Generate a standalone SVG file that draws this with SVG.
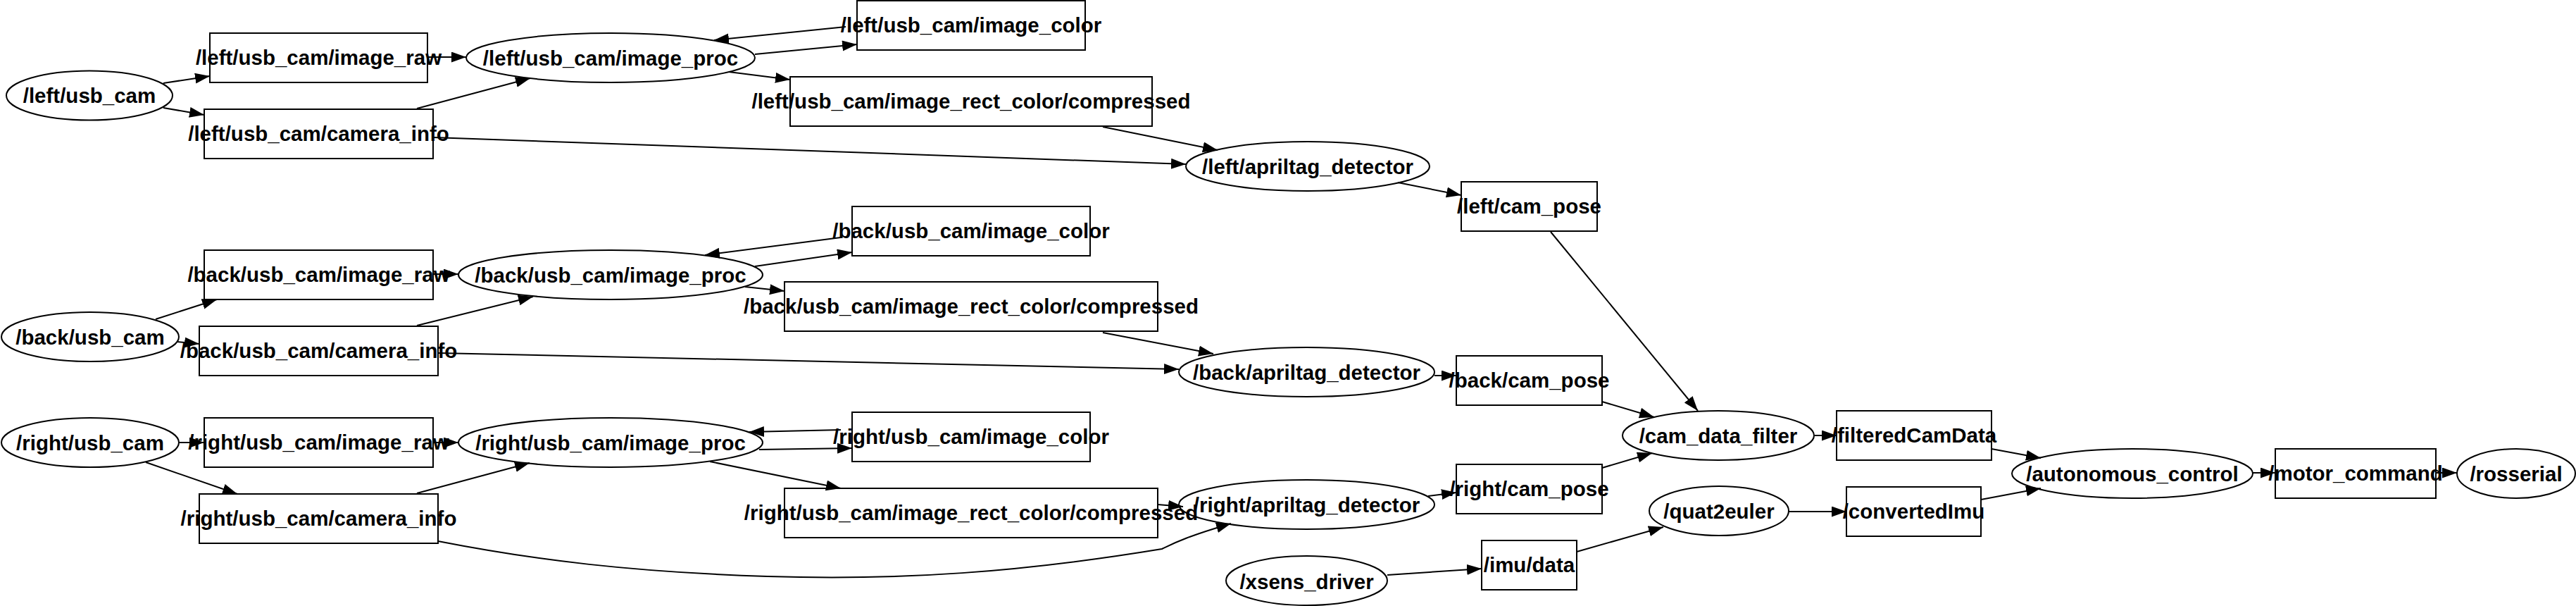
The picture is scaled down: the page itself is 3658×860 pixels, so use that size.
<svg xmlns="http://www.w3.org/2000/svg" width="3658" height="860" viewBox="0 0 3658 860">
<defs>
<style>
.n ellipse,.n rect{fill:none;stroke:#000;stroke-width:2}
.n text{font-family:"Liberation Sans",Arial,sans-serif;font-weight:bold;font-size:29.5px;text-anchor:middle;fill:#000}
.e path{fill:none;stroke:#000;stroke-width:2;marker-end:url(#ah)}
</style>
<marker id="ah" markerUnits="userSpaceOnUse" markerWidth="22" markerHeight="16" refX="21" refY="7.5" orient="auto"><path d="M0,0 L21,7.5 L0,15 z" fill="#000"/></marker>
</defs>
<rect x="0" y="0" width="3658" height="860" fill="#fff"/>
<g id="edges" class="e">
<path d="M232,118 L298,108"/>
<path d="M232,153 L290,163"/>
<path d="M607,81 L662,81"/>
<path d="M592,154 L753,111"/>
<path d="M1072,77 L1217,63"/>
<path d="M1201,38 L1014,57"/>
<path d="M1035,102 L1122,113"/>
<path d="M1566,180 L1729,213"/>
<path d="M615,195 L1684,233"/>
<path d="M1985,259 L2075,277"/>
<path d="M2202,329 L2411,583"/>
<path d="M221,453 L308,425"/>
<path d="M252,485 L283,488"/>
<path d="M615,389 L651,389"/>
<path d="M592,462 L757,421"/>
<path d="M1072,378 L1210,358"/>
<path d="M1194,337 L1001,362"/>
<path d="M1058,407 L1114,413"/>
<path d="M1566,472 L1723,502"/>
<path d="M622,501 L1674,524"/>
<path d="M2037,533 L2068,533"/>
<path d="M2275,570 L2349,592"/>
<path d="M254,628 L290,628"/>
<path d="M207,656 L337,701"/>
<path d="M615,628 L651,628"/>
<path d="M592,700 L752,657"/>
<path d="M1078,638 L1210,636"/>
<path d="M1194,610 L1064,613"/>
<path d="M1008,655 L1194,693"/>
<path d="M1644,716 L1680,719"/>
<path d="M622,768 C760,795 900,812 1090,818 S1450,812 1650,779 C1665,772 1680,763 1748,743"/>
<path d="M2028,704 L2068,699"/>
<path d="M2275,664 L2346,643"/>
<path d="M1970,816 L2104,807"/>
<path d="M2239,783 L2362,748"/>
<path d="M2540,726 L2622,726"/>
<path d="M2577,618 L2608,618"/>
<path d="M2828,637 L2898,650"/>
<path d="M2813,709 L2898,693"/>
<path d="M3199,671 L3231,671"/>
<path d="M3459,671 L3489,671"/>
</g>
<g id="left_usb_cam" class="n"><ellipse cx="127" cy="135.5" rx="118" ry="35"/><text x="127" y="146">/left/usb_cam</text></g>
<g id="back_usb_cam" class="n"><ellipse cx="128" cy="478" rx="126" ry="35"/><text x="128" y="488.5">/back/usb_cam</text></g>
<g id="right_usb_cam" class="n"><ellipse cx="128" cy="628" rx="126" ry="35"/><text x="128" y="638.5">/right/usb_cam</text></g>
<g id="left_image_raw" class="n"><rect x="298" y="47" width="309" height="70"/><text x="452.5" y="92">/left/usb_cam/image_raw</text></g>
<g id="left_camera_info" class="n"><rect x="290" y="155" width="325" height="70"/><text x="452.5" y="200">/left/usb_cam/camera_info</text></g>
<g id="back_image_raw" class="n"><rect x="290" y="355" width="325" height="70"/><text x="452.5" y="400">/back/usb_cam/image_raw</text></g>
<g id="back_camera_info" class="n"><rect x="283" y="463" width="339" height="70"/><text x="452.5" y="508">/back/usb_cam/camera_info</text></g>
<g id="right_image_raw" class="n"><rect x="290" y="593" width="325" height="70"/><text x="452.5" y="638">/right/usb_cam/image_raw</text></g>
<g id="right_camera_info" class="n"><rect x="283" y="701" width="339" height="70"/><text x="452.5" y="746">/right/usb_cam/camera_info</text></g>
<g id="left_image_proc" class="n"><ellipse cx="867" cy="82" rx="205" ry="35"/><text x="867" y="92.5">/left/usb_cam/image_proc</text></g>
<g id="back_image_proc" class="n"><ellipse cx="867" cy="390" rx="216" ry="35"/><text x="867" y="400.5">/back/usb_cam/image_proc</text></g>
<g id="right_image_proc" class="n"><ellipse cx="867" cy="628" rx="216" ry="35"/><text x="867" y="638.5">/right/usb_cam/image_proc</text></g>
<g id="left_image_color" class="n"><rect x="1217" y="1" width="324" height="70"/><text x="1379" y="46">/left/usb_cam/image_color</text></g>
<g id="left_rect_compressed" class="n"><rect x="1122" y="109" width="514" height="70"/><text x="1379" y="154">/left/usb_cam/image_rect_color/compressed</text></g>
<g id="back_image_color" class="n"><rect x="1210" y="293" width="338" height="70"/><text x="1379" y="338">/back/usb_cam/image_color</text></g>
<g id="back_rect_compressed" class="n"><rect x="1114" y="400" width="530" height="70"/><text x="1379" y="445">/back/usb_cam/image_rect_color/compressed</text></g>
<g id="right_image_color" class="n"><rect x="1210" y="585" width="338" height="70"/><text x="1379" y="630">/right/usb_cam/image_color</text></g>
<g id="right_rect_compressed" class="n"><rect x="1114" y="693" width="530" height="70"/><text x="1379" y="738">/right/usb_cam/image_rect_color/compressed</text></g>
<g id="left_apriltag" class="n"><ellipse cx="1857" cy="236" rx="173" ry="35"/><text x="1857" y="246.5">/left/apriltag_detector</text></g>
<g id="back_apriltag" class="n"><ellipse cx="1855.5" cy="528" rx="181.5" ry="35"/><text x="1855.5" y="538.5">/back/apriltag_detector</text></g>
<g id="right_apriltag" class="n"><ellipse cx="1855.5" cy="716" rx="181.5" ry="35"/><text x="1855.5" y="726.5">/right/apriltag_detector</text></g>
<g id="xsens_driver" class="n"><ellipse cx="1855.5" cy="824" rx="114.5" ry="35"/><text x="1855.5" y="836">/xsens_driver</text></g>
<g id="left_cam_pose" class="n"><rect x="2075" y="258" width="193" height="70"/><text x="2171.5" y="303">/left/cam_pose</text></g>
<g id="back_cam_pose" class="n"><rect x="2068" y="505" width="207" height="70"/><text x="2171.5" y="550">/back/cam_pose</text></g>
<g id="right_cam_pose" class="n"><rect x="2068" y="659" width="207" height="70"/><text x="2171.5" y="704">/right/cam_pose</text></g>
<g id="imu_data" class="n"><rect x="2104" y="767" width="135" height="70"/><text x="2171.5" y="812">/imu/data</text></g>
<g id="cam_data_filter" class="n"><ellipse cx="2440" cy="618" rx="136" ry="35"/><text x="2440" y="628.5">/cam_data_filter</text></g>
<g id="quat2euler" class="n"><ellipse cx="2441" cy="725" rx="99" ry="35"/><text x="2441" y="735.5">/quat2euler</text></g>
<g id="filteredCamData" class="n"><rect x="2608" y="583" width="220" height="70"/><text x="2718" y="628">/filteredCamData</text></g>
<g id="convertedImu" class="n"><rect x="2622" y="691" width="191" height="70"/><text x="2717.5" y="736">/convertedImu</text></g>
<g id="autonomous_control" class="n"><ellipse cx="3028" cy="672" rx="171" ry="35"/><text x="3028" y="682.5">/autonomous_control</text></g>
<g id="motor_command" class="n"><rect x="3231" y="637" width="228" height="70"/><text x="3345" y="682">/motor_command</text></g>
<g id="rosserial" class="n"><ellipse cx="3573" cy="672" rx="84" ry="35"/><text x="3573" y="682.5">/rosserial</text></g>
</svg>
